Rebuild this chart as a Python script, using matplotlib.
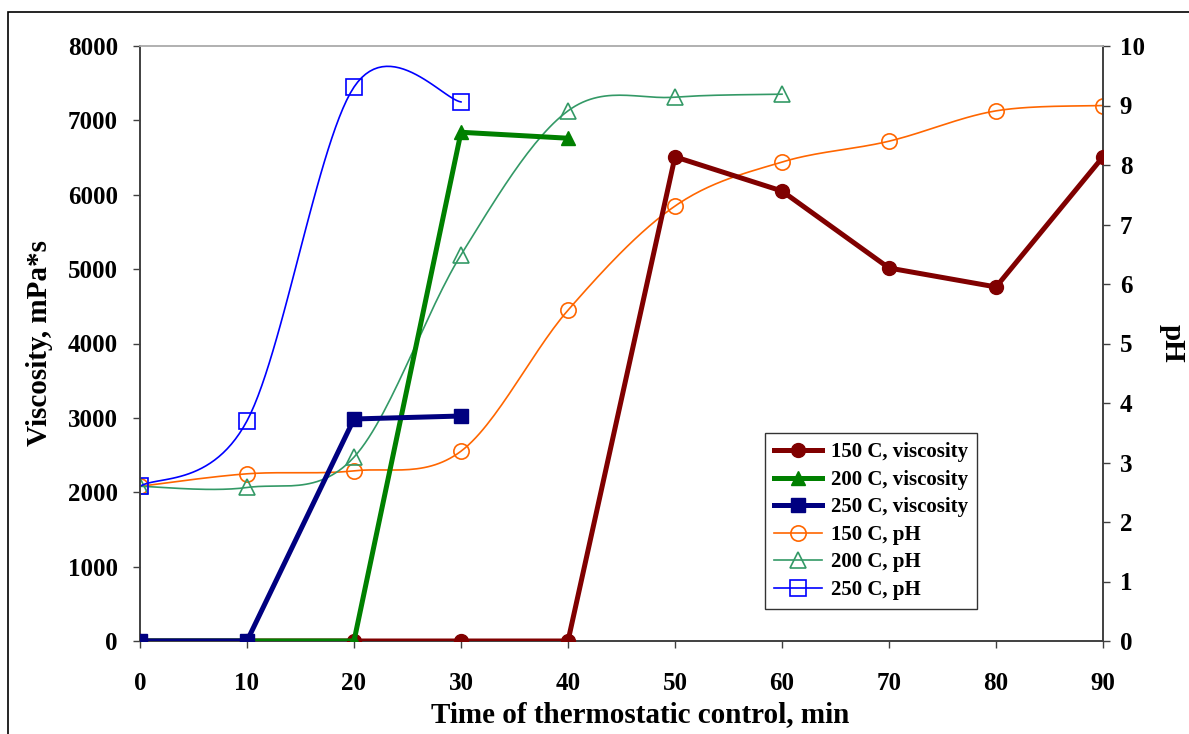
import matplotlib
matplotlib.use("Agg")
import matplotlib.pyplot as plt
import numpy as np
from matplotlib.patches import Rectangle

plt.rcParams['font.family'] = ['Liberation Serif', 'DejaVu Serif']
plt.rcParams['font.weight'] = 'bold'

# data
t150 = [0, 10, 20, 30, 40, 50, 60, 70, 80, 90]
visc150 = [0, 0, 0, 0, 0, 6510, 6050, 5015, 4760, 6510]
t200 = [0, 10, 20, 30, 40]
visc200 = [0, 0, 0, 6840, 6760]
t250 = [0, 10, 20, 30]
visc250 = [0, 0, 2985, 3025]

ph150 = [2.6, 2.81, 2.86, 3.19, 5.56, 7.31, 8.05, 8.40, 8.91, 9.0]
t200ph = [0, 10, 20, 30, 40, 50, 60]
ph200 = [2.6, 2.58, 3.09, 6.49, 8.91, 9.14, 9.19]
t250ph = [0, 10, 20, 30]
ph250 = [2.6, 3.70, 9.31, 9.06]


def smooth(x, y, n=30):
    # excel-like smoothed line (catmull-rom / bezier)
    x = np.asarray(x, float)
    y = np.asarray(y, float)
    px = np.concatenate([[x[0]], x, [x[-1]]])
    py = np.concatenate([[y[0]], y, [y[-1]]])
    xs, ys = [], []
    s = np.linspace(0, 1, n)
    for i in range(1, len(px) - 2):
        p0 = np.array([px[i], py[i]])
        p3 = np.array([px[i + 1], py[i + 1]])
        c1 = p0 + (np.array([px[i + 1], py[i + 1]]) - np.array([px[i - 1], py[i - 1]])) / 6
        c2 = p3 - (np.array([px[i + 2], py[i + 2]]) - np.array([px[i], py[i]])) / 6
        b = ((1 - s) ** 3)[:, None] * p0 + (3 * (1 - s) ** 2 * s)[:, None] * c1 \
            + (3 * (1 - s) * s ** 2)[:, None] * c2 + (s ** 3)[:, None] * p3
        xs.extend(b[:, 0])
        ys.extend(b[:, 1])
    return xs, ys


fig = plt.figure(figsize=(11.89, 7.34), dpi=100)
ax = fig.add_axes([140 / 1189, 1 - 641 / 734, (1103 - 140) / 1189, (641 - 46) / 734])
ax2 = ax.twinx()

fig.patches.append(Rectangle((8 / 1189, -0.1), 1.2, 1 - 12 / 734 + 0.1, transform=fig.transFigure,
                             fill=False, edgecolor='black', linewidth=1.2))

lw = 3.6
ms = 10
l1, = ax.plot(t150, visc150, color='#800000', lw=lw, marker='o', ms=ms, label='150 C, viscosity', zorder=3)
l2, = ax.plot(t200, visc200, color='#008000', lw=lw, marker='^', ms=ms, label='200 C, viscosity', zorder=4)
l3, = ax.plot(t250, visc250, color='#000080', lw=lw, marker='s', ms=ms, label='250 C, viscosity', zorder=5)

phs = []
for tt, pp, c, m, lab in [(t150, ph150, '#FF6600', 'o', '150 C, pH'),
                          (t200ph, ph200, '#339966', '^', '200 C, pH'),
                          (t250ph, ph250, '#0000FF', 's', '250 C, pH')]:
    sx, sy = smooth(tt, pp)
    ax2.plot(sx, sy, color=c, lw=1.2)
    ax2.plot(tt, pp, ls='none', marker=m, ms=11, mfc='none', mec=c, mew=1.2)
    h, = ax2.plot([], [], color=c, lw=1.2, marker=m, ms=11, mfc='none', mec=c, mew=1.2, label=lab)
    phs.append(h)

ax.set_xlim(0, 90)
ax.set_ylim(0, 8000)
ax2.set_ylim(0, 10)
ax.set_xticks(range(0, 91, 10))
ax.set_yticks(range(0, 8001, 1000))
ax2.set_yticks(range(0, 11))

for a in (ax, ax2):
    a.tick_params(direction='out', length=5, width=1, colors='#404040', labelcolor='black',
                  labelsize=18)
    for sp in a.spines.values():
        sp.set_color('#404040')
        sp.set_linewidth(1.2)
    a.spines['top'].set_color('#b0b0b0')
    for lbl in a.get_xticklabels() + a.get_yticklabels():
        lbl.set_fontweight('bold')
ax.tick_params(axis='y', pad=11)
ax.tick_params(axis='x', pad=17)
ax2.tick_params(axis='y', pad=7)

ax.set_xlabel('Time of thermostatic control, min', fontsize=21, fontweight='bold', va='center')
ax.xaxis.set_label_coords((640 - 140) / 963, -(715 - 641) / 595)
ax.set_ylabel('Viscosity, mPa*s', fontsize=21, fontweight='bold', va='center')
ax.yaxis.set_label_coords(-(140 - 40) / 963, 0.5)
ax2.set_ylabel('pH', fontsize=21, fontweight='bold', rotation=270, va='center')
ax2.yaxis.set_label_coords((1172 - 140) / 963, 0.5)

ax2.set_zorder(ax.get_zorder() - 1)
ax.patch.set_visible(False)

leg = ax.legend(handles=[l1, l2, l3] + phs, loc='upper left',
                bbox_to_anchor=((765 - 140) / 963, (641 - 433) / 595),
                fontsize=15, frameon=True, fancybox=False, edgecolor='black',
                handlelength=2.3, borderpad=0.45, labelspacing=0.36, handletextpad=0.4,
                borderaxespad=0)
leg.get_frame().set_linewidth(1.0)
for txt in leg.get_texts():
    txt.set_fontweight('bold')

fig.savefig('out.png', dpi=100)
